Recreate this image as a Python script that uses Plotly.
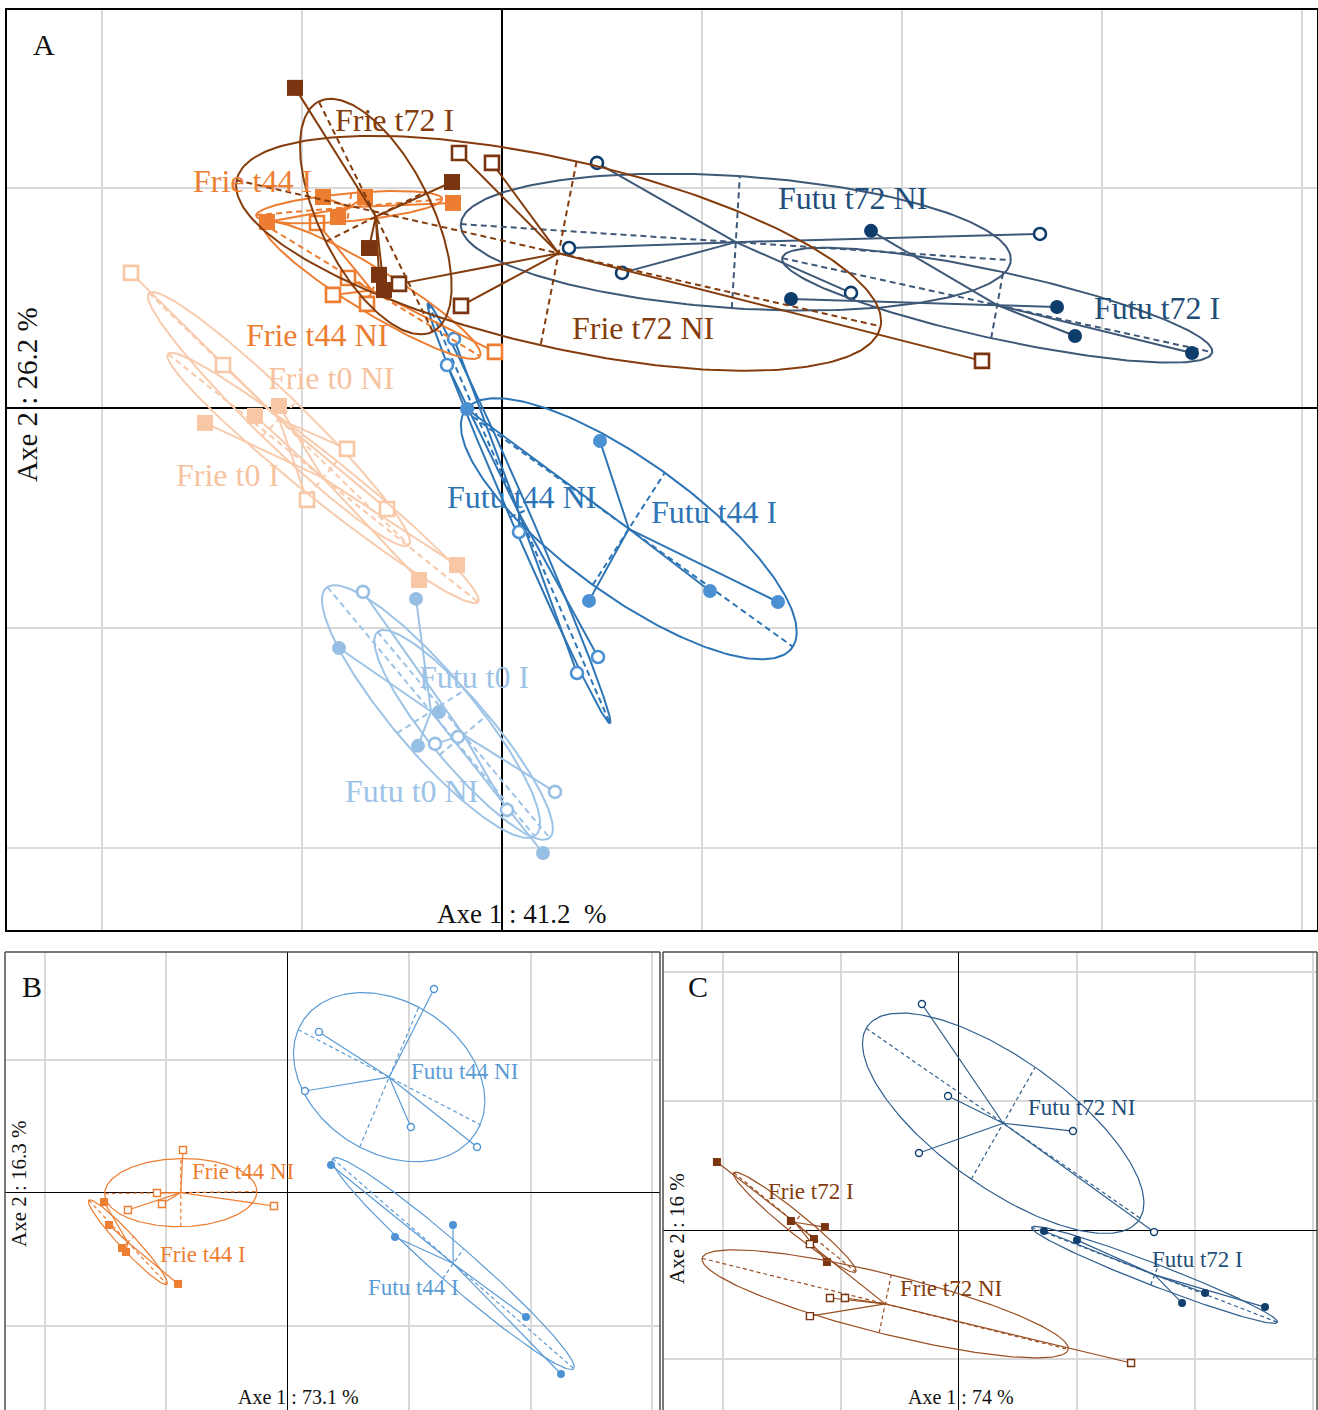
import numpy as np
import plotly.graph_objects as go

# ======================= DATA =======================
# Scores in grid units (1 unit = one grid cell). Ellipses are given as two
# conjugate semi-axes [ux, uy, vx, vy] around the group centroid.

# ---------- Panel A : Axe 1 41.2 %, Axe 2 26.2 % ----------
A_FRIE_T0_I_X = [-1.485, -1.235, -1.115, -0.225, -0.415]
A_FRIE_T0_I_Y = [-0.068, -0.036, 0.009, -0.714, -0.782]
A_FRIE_T0_I_ELL = [0.775, -0.564, 0.07, 0.077]

A_FRIE_T0_NI_X = [-1.855, -1.395, -0.775, -0.975, -0.575]
A_FRIE_T0_NI_Y = [0.614, 0.195, -0.186, -0.418, -0.459]
A_FRIE_T0_NI_ELL = [0.65, -0.573, 0.085, 0.077]

A_FRIE_T44_I_X = [-1.175, -0.895, -0.685, -0.82, -0.245]
A_FRIE_T44_I_Y = [0.845, 0.959, 0.959, 0.868, 0.932]
A_FRIE_T44_I_ELL = [0.465, 0.036, -0.01, -0.064]

A_FRIE_T44_NI_X = [-0.925, -0.77, -0.845, -0.675, -0.035]
A_FRIE_T44_NI_Y = [0.841, 0.591, 0.514, 0.473, 0.255]
A_FRIE_T44_NI_ELL = [0.54, -0.3, 0.055, 0.086]

A_FRIE_T72_I_X = [-1.035, -0.25, -0.665, -0.615, -0.59]
A_FRIE_T72_I_Y = [1.455, 1.027, 0.727, 0.605, 0.536]
A_FRIE_T72_I_ELL = [-0.285, 0.523, 0.25, 0.114]

A_FRIE_T72_NI_X = [-0.215, -0.05, -0.515, -0.205, 2.4]
A_FRIE_T72_NI_Y = [1.159, 1.114, 0.564, 0.464, 0.214]
A_FRIE_T72_NI_ELL = [1.61, -0.332, -0.09, -0.418]

A_FUTU_T0_I_X = [-0.43, -0.815, -0.315, -0.42, 0.205]
A_FUTU_T0_I_Y = [-0.868, -1.091, -1.382, -1.536, -2.023]
A_FUTU_T0_I_ELL = [0.518, -0.566, 0.17, 0.098]

A_FUTU_T0_NI_X = [-0.695, -0.335, -0.22, 0.025, 0.265]
A_FUTU_T0_NI_Y = [-0.836, -1.527, -1.495, -1.827, -1.745]
A_FUTU_T0_NI_ELL = [0.43, -0.468, 0.12, 0.091]

A_FUTU_T44_I_X = [-0.175, 0.49, 0.435, 1.04, 1.38]
A_FUTU_T44_I_Y = [-0.005, -0.15, -0.877, -0.832, -0.882]
A_FUTU_T44_I_ELL = [0.82, -0.536, 0.18, 0.255]

A_FUTU_T44_NI_X = [-0.24, -0.275, 0.085, 0.48, 0.375]
A_FUTU_T44_NI_Y = [0.314, 0.195, -0.564, -1.132, -1.205]
A_FUTU_T44_NI_ELL = [0.455, -0.955, 0.045, 0.018]

A_FUTU_T72_I_X = [1.845, 1.445, 2.775, 2.865, 3.45]
A_FUTU_T72_I_Y = [0.805, 0.495, 0.459, 0.327, 0.25]
A_FUTU_T72_I_ELL = [1.075, -0.214, 0.03, 0.15]

A_FUTU_T72_NI_X = [0.475, 0.335, 0.6, 1.745, 2.69]
A_FUTU_T72_NI_Y = [1.114, 0.727, 0.614, 0.523, 0.791]
A_FUTU_T72_NI_ELL = [1.375, -0.082, 0.02, 0.3]

# ---------- Panel B : Axe 1 73.1 %, Axe 2 16.3 % ----------
B_FRIE_T44_NI_X = [-0.864, -1.078, -1.037, -1.317, -0.115]
B_FRIE_T44_NI_Y = [0.323, 0.0, -0.083, -0.128, -0.098]
B_FRIE_T44_NI_ELL = [0.626, 0.008, 0.0, 0.256]

B_FRIE_T44_I_X = [-1.514, -1.473, -1.366, -1.333, -0.905]
B_FRIE_T44_I_Y = [-0.068, -0.241, -0.414, -0.444, -0.684]
B_FRIE_T44_I_ELL = [0.321, -0.316, 0.049, 0.041]

B_FUTU_T44_NI_X = [1.202, 0.255, 0.14, 1.012, 1.556]
B_FUTU_T44_NI_Y = [1.534, 1.211, 0.767, 0.496, 0.346]
B_FUTU_T44_NI_ELL = [0.749, -0.357, 0.243, 0.526]

B_FUTU_T44_I_X = [0.354, 0.881, 1.358, 1.959, 2.247]
B_FUTU_T44_I_Y = [0.211, -0.331, -0.241, -0.932, -1.361]
B_FUTU_T44_I_ELL = [0.992, -0.789, 0.086, 0.113]

# ---------- Panel C : Axe 1 74 %, Axe 2 16 % ----------
C_FRIE_T72_I_X = [-2.051, -1.424, -1.136, -1.229, -1.119]
C_FRIE_T72_I_Y = [0.527, 0.07, 0.023, -0.07, -0.248]
C_FRIE_T72_I_ELL = [0.517, -0.384, 0.053, 0.06]

C_FRIE_T72_NI_X = [-1.263, -1.093, -0.966, -1.263, 1.458]
C_FRIE_T72_NI_Y = [-0.109, -0.527, -0.527, -0.667, -1.031]
C_FRIE_T72_NI_ELL = [1.551, -0.353, 0.051, 0.225]

C_FUTU_T72_NI_X = [-0.314, -0.093, -0.339, 0.966, 1.653]
C_FUTU_T72_NI_Y = [1.752, 1.039, 0.597, 0.767, -0.016]
C_FUTU_T72_NI_ELL = [1.161, -0.736, 0.271, 0.434]

C_FUTU_T72_I_X = [0.72, 1.0, 1.89, 2.085, 2.593]
C_FUTU_T72_I_Y = [-0.008, -0.078, -0.566, -0.488, -0.597]
C_FUTU_T72_I_ELL = [1.042, -0.368, 0.034, 0.078]

AXIS_LABELS = {
    "A": ("Axe 1 : 41.2\u00a0\u00a0%", "Axe 2 : 26.2 %"),
    "B": ("Axe 1 : 73.1 %", "Axe 2 : 16.3 %"),
    "C": ("Axe 1 : 74 %", "Axe 2 : 16 %"),
}

# ======================= STYLE =======================
SERIF = "Liberation Serif, Times New Roman, serif"
COL = {
    "frie_t0": ("#f8cbad", "#f8c7a6", "#f6c3a0"),   # line, marker, text
    "frie_t44": ("#ed7d31", "#ed7d31", "#ed7d31"),
    "frie_t72": ("#843c0c", "#7a3510", "#843c0c"),
    "futu_t0": ("#9dc3e6", "#97bfe4", "#9dc3e6"),
    "futu_t44": ("#2e75b6", "#4a90d2", "#2e75b6"),
    "futu_t72": ("#3e5878", "#0f3d6b", "#1f4e79"),
    "frie_t44_b": ("#ed7d31", "#ed7d31", "#ed7d31"),
    "futu_t44_b": ("#5b9bd5", "#4d92d2", "#5b9bd5"),
    "frie_t72_c": ("#9a4f22", "#7a3510", "#843c0c"),
    "futu_t72_c": ("#2f5f8f", "#103f6e", "#1f4e79"),
}

W, H = 1318, 1410
PANELS = {
    # name: (axis id, domain x px, domain y px (top,bottom), x range, y range)
    "A": ("", (7, 1317), (10, 930), (-2.475, 4.075), (-2.373, 1.809)),
    "B": ("2", (5, 660), (952, 1410), (-2.329, 3.062), (-1.632, 1.812)),
    "C": ("3", (663, 1318), (952, 1410), (-2.508, 3.042), (-1.395, 2.155)),
}

fig = go.Figure()


def add_group(panel, xs, ys, ell, ckey, symbol, filled, big):
    sid = PANELS[panel][0]
    xr, yr = "x" + sid, "y" + sid
    lc, mc, _ = COL[ckey]
    xs = np.asarray(xs, float)
    ys = np.asarray(ys, float)
    cx, cy = xs.mean(), ys.mean()
    ux, uy, vx, vy = ell
    lw = 2.0 if big else 1.2
    dash = "6px,4px" if big else "4px,3px"
    t = np.linspace(0, 2 * np.pi, 240)
    common = dict(xaxis=xr, yaxis=yr, hoverinfo="skip", showlegend=False)
    # ellipse
    fig.add_trace(go.Scatter(x=cx + ux * np.cos(t) + vx * np.sin(t),
                             y=cy + uy * np.cos(t) + vy * np.sin(t),
                             mode="lines", line=dict(color=lc, width=lw), **common))
    # ellipse axes (dashed)
    fig.add_trace(go.Scatter(x=[cx - ux, cx + ux, None, cx - vx, cx + vx],
                             y=[cy - uy, cy + uy, None, cy - vy, cy + vy],
                             mode="lines", line=dict(color=lc, width=lw, dash=dash), **common))
    # star lines
    sx, sy = [], []
    for x, y in zip(xs, ys):
        sx += [cx, x, None]
        sy += [cy, y, None]
    fig.add_trace(go.Scatter(x=sx, y=sy, mode="lines",
                             line=dict(color=lc, width=lw), **common))
    # points
    if big:
        size = 16 if symbol == "square" else 14
        olw = 2.6
    else:
        size = 8
        olw = 1.4
    if filled:
        marker = dict(symbol=symbol, size=size, color=mc, line=dict(width=0))
    else:
        marker = dict(symbol=symbol, size=size - (2 if big else 1), color="white",
                      line=dict(color=mc, width=olw))
    fig.add_trace(go.Scatter(x=xs, y=ys, mode="markers", marker=marker, **common))


GROUPS = [
    ("A", A_FRIE_T0_NI_X, A_FRIE_T0_NI_Y, A_FRIE_T0_NI_ELL, "frie_t0", "square", False),
    ("A", A_FRIE_T0_I_X, A_FRIE_T0_I_Y, A_FRIE_T0_I_ELL, "frie_t0", "square", True),
    ("A", A_FUTU_T0_I_X, A_FUTU_T0_I_Y, A_FUTU_T0_I_ELL, "futu_t0", "circle", True),
    ("A", A_FUTU_T0_NI_X, A_FUTU_T0_NI_Y, A_FUTU_T0_NI_ELL, "futu_t0", "circle", False),
    ("A", A_FUTU_T44_NI_X, A_FUTU_T44_NI_Y, A_FUTU_T44_NI_ELL, "futu_t44", "circle", False),
    ("A", A_FUTU_T44_I_X, A_FUTU_T44_I_Y, A_FUTU_T44_I_ELL, "futu_t44", "circle", True),
    ("A", A_FUTU_T72_NI_X, A_FUTU_T72_NI_Y, A_FUTU_T72_NI_ELL, "futu_t72", "circle", False),
    ("A", A_FUTU_T72_I_X, A_FUTU_T72_I_Y, A_FUTU_T72_I_ELL, "futu_t72", "circle", True),
    ("A", A_FRIE_T44_NI_X, A_FRIE_T44_NI_Y, A_FRIE_T44_NI_ELL, "frie_t44", "square", False),
    ("A", A_FRIE_T44_I_X, A_FRIE_T44_I_Y, A_FRIE_T44_I_ELL, "frie_t44", "square", True),
    ("A", A_FRIE_T72_NI_X, A_FRIE_T72_NI_Y, A_FRIE_T72_NI_ELL, "frie_t72", "square", False),
    ("A", A_FRIE_T72_I_X, A_FRIE_T72_I_Y, A_FRIE_T72_I_ELL, "frie_t72", "square", True),
    ("B", B_FRIE_T44_NI_X, B_FRIE_T44_NI_Y, B_FRIE_T44_NI_ELL, "frie_t44_b", "square", False),
    ("B", B_FRIE_T44_I_X, B_FRIE_T44_I_Y, B_FRIE_T44_I_ELL, "frie_t44_b", "square", True),
    ("B", B_FUTU_T44_NI_X, B_FUTU_T44_NI_Y, B_FUTU_T44_NI_ELL, "futu_t44_b", "circle", False),
    ("B", B_FUTU_T44_I_X, B_FUTU_T44_I_Y, B_FUTU_T44_I_ELL, "futu_t44_b", "circle", True),
    ("C", C_FRIE_T72_I_X, C_FRIE_T72_I_Y, C_FRIE_T72_I_ELL, "frie_t72_c", "square", True),
    ("C", C_FRIE_T72_NI_X, C_FRIE_T72_NI_Y, C_FRIE_T72_NI_ELL, "frie_t72_c", "square", False),
    ("C", C_FUTU_T72_NI_X, C_FUTU_T72_NI_Y, C_FUTU_T72_NI_ELL, "futu_t72_c", "circle", False),
    ("C", C_FUTU_T72_I_X, C_FUTU_T72_I_Y, C_FUTU_T72_I_ELL, "futu_t72_c", "circle", True),
]

for panel, xs, ys, ell, ckey, sym, filled in GROUPS:
    add_group(panel, xs, ys, ell, ckey, sym, filled, panel == "A")

# group labels: (panel, text, x, y, colour key)
LABELS = [
    ("A", "Frie t72 I", -0.54, 1.309, "frie_t72"),
    ("A", "Frie t44 I", -1.25, 1.032, "frie_t44"),
    ("A", "Futu t72 NI", 1.75, 0.955, "futu_t72"),
    ("A", "Futu t72 I", 3.275, 0.455, "futu_t72"),
    ("A", "Frie t72 NI", 0.705, 0.364, "frie_t72"),
    ("A", "Frie t44 NI", -0.925, 0.332, "frie_t44"),
    ("A", "Frie t0 NI", -0.855, 0.136, "frie_t0"),
    ("A", "Frie t0 I", -1.375, -0.305, "frie_t0"),
    ("A", "Futu t44 NI", 0.095, -0.405, "futu_t44"),
    ("A", "Futu t44 I", 1.06, -0.473, "futu_t44"),
    ("A", "Futu t0 I", -0.14, -1.223, "futu_t0"),
    ("A", "Futu t0 NI", -0.455, -1.741, "futu_t0"),
    ("B", "Futu t44 NI", 1.457, 0.91, "futu_t44_b"),
    ("B", "Frie t44 NI", -0.37, 0.165, "frie_t44_b"),
    ("B", "Frie t44 I", -0.70, -0.459, "frie_t44_b"),
    ("B", "Futu t44 I", 1.037, -0.714, "futu_t44_b"),
    ("C", "Futu t72 NI", 1.042, 0.953, "futu_t72_c"),
    ("C", "Frie t72 I", -1.254, 0.295, "frie_t72_c"),
    ("C", "Futu t72 I", 2.017, -0.225, "futu_t72_c"),
    ("C", "Frie t72 NI", -0.068, -0.457, "frie_t72_c"),
]

annotations = []
for panel, text, x, y, ckey in LABELS:
    sid = PANELS[panel][0]
    annotations.append(dict(
        text=text, x=x, y=y, xref="x" + sid, yref="y" + sid, showarrow=False,
        xanchor="center", yanchor="middle",
        font=dict(family=SERIF, size=32 if panel == "A" else 23, color=COL[ckey][2])))


def pp(px, py):
    return px / W, 1 - py / H


# panel letters and axis titles (pixel positions -> paper)
TEXTS = [
    ("A", 44, 45, 30, 0),
    ("B", 32, 987, 30, 0),
    ("C", 698, 987, 30, 0),
    (AXIS_LABELS["A"][0], 521, 914, 27, 0),
    (AXIS_LABELS["A"][1], 27, 395, 29, -90),
    (AXIS_LABELS["B"][0], 298, 1397, 20, 0),
    (AXIS_LABELS["B"][1], 19, 1184, 21, -90),
    (AXIS_LABELS["C"][0], 961, 1397, 20, 0),
    (AXIS_LABELS["C"][1], 677, 1229, 21, -90),
]
for text, px, py, size, ang in TEXTS:
    xp, yp = pp(px, py)
    annotations.append(dict(text=text, x=xp, y=yp, xref="paper", yref="paper",
                            showarrow=False, xanchor="center", yanchor="middle",
                            textangle=ang, font=dict(family=SERIF, size=size, color="#111111")))

layout = dict(width=W, height=H, margin=dict(l=0, r=0, t=0, b=0),
              paper_bgcolor="white", plot_bgcolor="white", showlegend=False,
              annotations=annotations)

for name, (sid, (x0, x1), (y0, y1), xrng, yrng) in PANELS.items():
    big = name == "A"
    ax_common = dict(showgrid=True, gridcolor="#d9d9d9", gridwidth=1.5, dtick=1, tick0=0,
                     showticklabels=False, ticks="", zeroline=True, zerolinecolor="black",
                     zerolinewidth=2 if big else 1.3, fixedrange=True)
    xa = dict(ax_common, domain=[x0 / W, x1 / W], range=list(xrng), anchor="y" + sid)
    ya = dict(ax_common, domain=[1 - y1 / H, 1 - y0 / H], range=list(yrng), anchor="x" + sid)
    if big:
        xa.update(showline=True, mirror=True, linecolor="black", linewidth=2)
        ya.update(showline=True, mirror=True, linecolor="black", linewidth=2)
    layout["xaxis" + sid] = xa
    layout["yaxis" + sid] = ya

# frames of panels B and C (bottom edge is outside the picture)
shapes = []
for (x0, x1) in [(5, 660), (663, 1317)]:
    for (a, b, c, d) in [(x0, 952, x1, 952), (x0, 952, x0, 1410), (x1, 952, x1, 1410)]:
        xa_, ya_ = pp(a, b)
        xb_, yb_ = pp(c, d)
        shapes.append(dict(type="line", xref="paper", yref="paper", x0=xa_, y0=ya_,
                           x1=xb_, y1=yb_, line=dict(color="#4d4d4d", width=1.5)))
layout["shapes"] = shapes

fig.update_layout(**layout)
fig.write_html("out.html", config={"displayModeBar": False},
               post_script="document.body.style.margin='0px';")
